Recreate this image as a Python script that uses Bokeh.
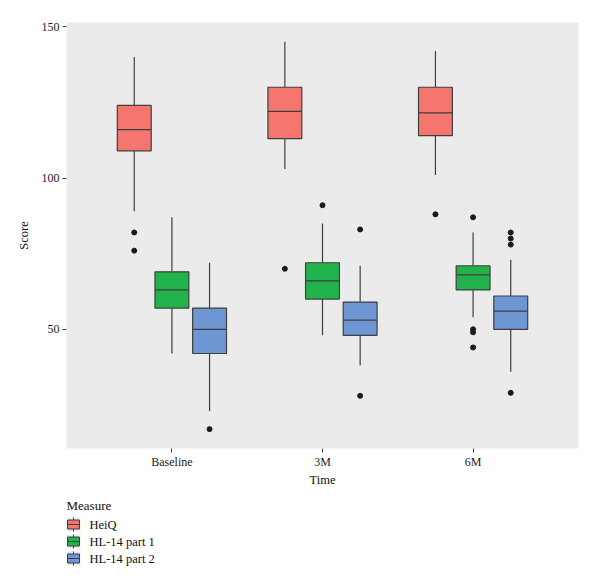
from bokeh.plotting import figure
from bokeh.models import (ColumnDataSource, FactorRange, Range1d, FixedTicker)
from bokeh.layouts import column
from bokeh.transform import dodge
from bokeh.core.properties import value
from bokeh.embed import file_html
from bokeh.resources import INLINE

# Time points and measures
times = ["Baseline", "3M", "6M"]
measures = ["HeiQ", "HL-14 part 1", "HL-14 part 2"]
colors = ["#F5766F", "#22B24B", "#6E96D3"]
legend_title = "Measure"

# Box statistics per measure, one value per time point
heiq_low = [89, 103, 101]
heiq_q1 = [109, 113, 114]
heiq_med = [116, 122, 121.5]
heiq_q3 = [124, 130, 130]
heiq_high = [140, 145, 142]
heiq_out = [[82, 76], [70], [88]]

p1_low = [42, 48, 54]
p1_q1 = [57, 60, 63]
p1_med = [63, 66, 68]
p1_q3 = [69, 72, 71]
p1_high = [87, 85, 82]
p1_out = [[], [91], [87, 50, 49, 44]]

p2_low = [23, 38, 36]
p2_q1 = [42, 48, 50]
p2_med = [50, 53, 56]
p2_q3 = [57, 59, 61]
p2_high = [72, 71, 73]
p2_out = [[17], [83, 28], [82, 80, 78, 29]]

stats = [
    (heiq_low, heiq_q1, heiq_med, heiq_q3, heiq_high, heiq_out),
    (p1_low, p1_q1, p1_med, p1_q3, p1_high, p1_out),
    (p2_low, p2_q1, p2_med, p2_q3, p2_high, p2_out),
]
offsets = [-0.25, 0.0, 0.25]
box_w = 0.225
edge = "#3f3f3f"
panel_bg = "#EBEBEB"
serif = "Liberation Serif"

p = figure(frame_width=512, frame_height=426,
           x_range=FactorRange(factors=times, range_padding=0.2,
                               range_padding_units="absolute"),
           y_range=Range1d(10.6, 151.4),
           output_backend="svg", toolbar_location=None,
           min_border_left=66, min_border_right=22,
           min_border_top=22, min_border_bottom=42)

p.background_fill_color = panel_bg
p.border_fill_color = "white"
p.outline_line_color = None
p.xgrid.visible = False
p.ygrid.visible = False

for col, off, (lo, q1, med, q3, hi, outs) in zip(colors, offsets, stats):
    src = ColumnDataSource(dict(t=times, lo=lo, q1=q1, med=med, q3=q3, hi=hi))
    xd = dodge("t", off, range=p.x_range)
    p.segment(x0=xd, x1=xd, y0="hi", y1="q3", source=src,
              line_color=edge, line_width=1.2)
    p.segment(x0=xd, x1=xd, y0="q1", y1="lo", source=src,
              line_color=edge, line_width=1.2)
    p.vbar(x=xd, width=box_w, top="q3", bottom="q1", source=src,
           fill_color=col, line_color=edge, line_width=1.2)
    p.segment(x0=dodge("t", off - box_w / 2, range=p.x_range),
              x1=dodge("t", off + box_w / 2, range=p.x_range),
              y0="med", y1="med", source=src,
              line_color=edge, line_width=1.2)
    ot, ov = [], []
    for t, vals in zip(times, outs):
        for v in vals:
            ot.append(t)
            ov.append(v)
    osrc = ColumnDataSource(dict(t=ot, v=ov))
    p.scatter(x=dodge("t", off, range=p.x_range), y="v", source=osrc,
              size=5, fill_color="#1a1a1a", line_color="#1a1a1a")

# axes
p.yaxis.ticker = FixedTicker(ticks=[50, 100, 150])
for ax in (p.xaxis[0], p.yaxis[0]):
    ax.axis_line_color = None
    ax.major_tick_in = 0
    ax.major_tick_out = 4
    ax.major_tick_line_color = "#444444"
    ax.minor_tick_line_color = None
    ax.major_label_text_font = serif
    ax.major_label_text_font_size = "12px"
    ax.major_label_text_color = "#222222"
    ax.axis_label_text_font = serif
    ax.axis_label_text_font_size = "12.5px"
    ax.axis_label_text_font_style = "normal"
    ax.axis_label_text_color = "#111111"
    ax.major_label_standoff = 3
p.xaxis.major_label_standoff = 2
p.yaxis.axis_label = "Score"
p.yaxis.axis_label_standoff = 8
p.xaxis.axis_label = "Time"
p.xaxis.axis_label_standoff = 1

# legend strip below the chart; its frame lines up with the panel above,
# so x runs in page pixels from 66 to 578 and y runs downward
lg = figure(frame_width=512, frame_height=97,
            x_range=Range1d(66, 578), y_range=Range1d(97, 0),
            x_axis_type=None, y_axis_type=None,
            output_backend="svg", toolbar_location=None,
            min_border_left=66, min_border_right=22,
            min_border_top=0, min_border_bottom=0)
lg.outline_line_color = None
lg.xgrid.visible = False
lg.ygrid.visible = False
lg.background_fill_color = "white"
lg.border_fill_color = "white"

key_x = 73
rows = [34 + 17 * i for i in range(len(measures))]
ksrc = ColumnDataSource(dict(
    x=[key_x] * len(measures), y=rows, fill=colors, label=measures,
    top=[r - 7 for r in rows], bottom=[r + 7 for r in rows],
    x0=[key_x - 6] * len(measures), x1=[key_x + 6] * len(measures),
    tx=[89] * len(measures)))
lg.rect(x="x", y="y", width=14, height=14, source=ksrc,
        fill_color=panel_bg, line_color=None)
lg.segment(x0="x", x1="x", y0="top", y1="bottom", source=ksrc,
           line_color=edge, line_width=1)
lg.rect(x="x", y="y", width=12, height=9, source=ksrc,
        fill_color="fill", line_color=edge, line_width=1)
lg.segment(x0="x0", x1="x1", y0="y", y1="y", source=ksrc,
           line_color=edge, line_width=1)
lg.text(x="tx", y="y", text="label", source=ksrc,
        text_font=value(serif), text_font_size="12.5px",
        text_color="#111111", text_baseline="middle", text_align="left")
lg.text(x=[66], y=[15], text=[legend_title],
        text_font=value(serif), text_font_size="13px",
        text_color="#111111", text_baseline="middle", text_align="left")

open("out.html", "w").write(file_html(column(p, lg, spacing=0), INLINE))
